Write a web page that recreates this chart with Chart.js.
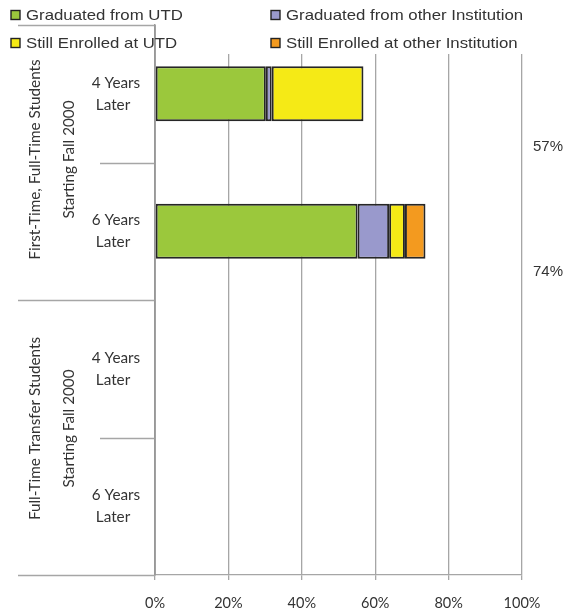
<!DOCTYPE html>
<html>
<head>
<meta charset="utf-8">
<script src="https://cdn.jsdelivr.net/npm/chart.js@4"></script>
<style>
  html, body { margin: 0; padding: 0; background: #fff; }
  #wrap { width: 583px; height: 613px; position: relative; }
</style>
</head>
<body>
<div id="wrap"><canvas id="c" width="583" height="613"></canvas></div>
<script>
// ---- Data ----
const categories = ['FT 4 Years Later', 'FT 6 Years Later', 'TR 4 Years Later', 'TR 6 Years Later'];
const yearLabels = [['4 Years', 'Later'], ['6 Years', 'Later'], ['4 Years', 'Later'], ['6 Years', 'Later']];
const groupLabels = [
  ['First-Time, Full-Time Students', 'Starting Fall 2000'],
  ['Full-Time Transfer Students', 'Starting Fall 2000']
];
const seriesNames = ['Graduated from UTD', 'Graduated from other Institution', 'Still Enrolled at UTD', 'Still Enrolled at other Institution'];
const gradUTD       = [30.2, 55.2, null, null];
const gradOther     = [1.6, 8.6, null, null];
const enrolledUTD   = [25.0, 4.3, null, null];
const enrolledOther = [null, 5.6, null, null];
const totalLabels   = ['57%', '74%', null, null];
const xTicks        = [0, 20, 40, 60, 80, 100];

const colors = ['#9BC83C', '#9999CC', '#F5EA16', '#F39A1F'];
const seriesValues = [gradUTD, gradOther, enrolledUTD, enrolledOther];

const catFont = '15.3px Lato, "Open Sans", sans-serif';
const arialFont = '15px "Liberation Sans", Arial, sans-serif';

const overlayPlugin = {
  id: 'overlay',
  afterDraw(chart) {
    const ctx = chart.ctx;
    const y = chart.scales.y;
    const ca = chart.chartArea;
    const n = categories.length;
    const slot = (y.getPixelForValue(1) - y.getPixelForValue(0));
    ctx.save();

    // legend background (hides gridline tops)
    ctx.fillStyle = '#fff';
    ctx.fillRect(ca.left + 1, 0, 583 - ca.left, 54);

    // category separators
    ctx.strokeStyle = '#a6a6a6';
    ctx.lineWidth = 1.3;
    for (let i = 0; i <= n; i++) {
      const py = Math.round(y.getPixelForValue(i) - slot / 2) + 0.5;
      const isGroup = (i % 2 === 0);
      const x0 = isGroup ? 18 : 100;
      ctx.beginPath();
      ctx.moveTo(x0, py);
      ctx.lineTo(ca.left, py);
      ctx.stroke();
    }
    // axis line redraw
    ctx.strokeStyle = '#999';
    ctx.lineWidth = 1.5;
    ctx.beginPath();
    ctx.moveTo(ca.left, ca.top);
    ctx.lineTo(ca.left, ca.bottom);
    ctx.stroke();

    // year labels
    ctx.fillStyle = '#333';
    ctx.font = catFont;
    ctx.textAlign = 'center';
    ctx.textBaseline = 'middle';
    for (let i = 0; i < n; i++) {
      const cy = y.getPixelForValue(i);
      ctx.fillText(yearLabels[i][0], 116, cy - 11);
      ctx.fillText(yearLabels[i][1], 113, cy + 11);
    }
    // group labels (rotated)
    const groupShift = [-3, -9];
    for (let g = 0; g < groupLabels.length; g++) {
      const cy = (y.getPixelForValue(2 * g) + y.getPixelForValue(2 * g + 1)) / 2 + groupShift[g];
      [[35, groupLabels[g][0]], [69, groupLabels[g][1]]].forEach(([px, txt]) => {
        ctx.save();
        ctx.translate(px, cy);
        ctx.rotate(-Math.PI / 2);
        ctx.fillText(txt, 0, 0);
        ctx.restore();
      });
    }

    // total labels on the right
    ctx.font = arialFont;
    ctx.fillStyle = '#333';
    for (let i = 0; i < n; i++) {
      if (!totalLabels[i]) continue;
      const cy = y.getPixelForValue(i) + slot * (i === 0 ? 0.38 : 0.29);
      ctx.fillText(totalLabels[i], ca.right + 26, cy + 1);
    }

    // legend
    ctx.textAlign = 'left';
    ctx.textBaseline = 'middle';
    const pos = [[11, 15], [271, 15], [11, 43], [271, 43]];
    for (let k = 0; k < seriesNames.length; k++) {
      const [lx, ly] = pos[k];
      ctx.fillStyle = colors[k];
      ctx.fillRect(lx, ly - 4.5, 9, 9);
      ctx.strokeStyle = '#222';
      ctx.lineWidth = 1.4;
      ctx.strokeRect(lx, ly - 4.5, 9, 9);
      ctx.fillStyle = '#333';
      ctx.save();
      ctx.translate(lx + 15, ly + 1);
      ctx.scale(1.12, 1);
      ctx.font = '15px "Liberation Sans", Arial, sans-serif';
      ctx.fillText(seriesNames[k], 0, 0);
      ctx.restore();
    }
    ctx.restore();
  }
};

new Chart(document.getElementById('c'), {
  type: 'bar',
  data: {
    labels: categories,
    datasets: seriesNames.map((name, k) => ({
      label: name,
      data: seriesValues[k],
      backgroundColor: colors[k],
      borderColor: '#262626',
      borderWidth: 2,
      borderSkipped: false,
      barPercentage: 0.4,
      categoryPercentage: 1.0
    }))
  },
  options: {
    indexAxis: 'y',
    responsive: false,
    animation: false,
    devicePixelRatio: 1,
    layout: { padding: { top: 25, right: 61, left: 0, bottom: 0 } },
    plugins: { legend: { display: false }, tooltip: { enabled: false } },
    scales: {
      x: {
        stacked: true,
        min: 0, max: 100,
        afterBuildTicks(scale) { scale.ticks = xTicks.map(v => ({ value: v })); },
        afterFit(scale) { scale.height = 38; },
        grid: { color: '#a6a6a6', lineWidth: 1.3, tickLength: 5, drawTicks: true },
        border: { display: true, color: '#a6a6a6', width: 1.3 },
        ticks: {
          padding: 15,
          color: '#333',
          font: { family: 'Lato, "Open Sans", sans-serif', size: 14.5 },
          callback: v => v + '%',
          maxRotation: 0
        }
      },
      y: {
        stacked: true,
        afterFit(scale) { scale.width = 155; },
        grid: { display: false },
        border: { display: true, color: '#999', width: 1.5 },
        ticks: { display: false }
      }
    }
  },
  plugins: [overlayPlugin]
});
</script>
</body>
</html>
